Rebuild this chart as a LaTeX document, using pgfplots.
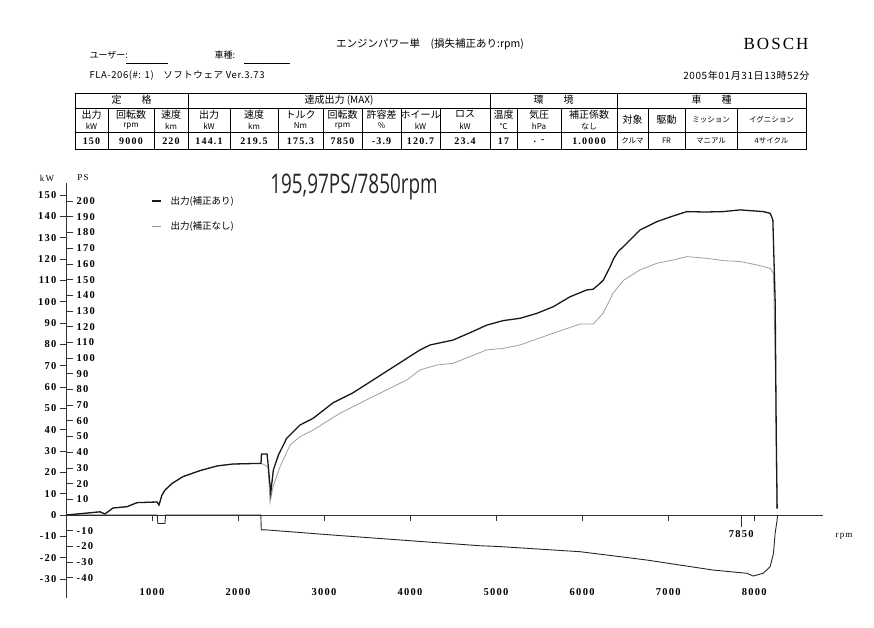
\documentclass[border=0pt]{standalone}
\usepackage{fontspec}
\usepackage{pgfplots}
\pgfplotsset{compat=1.18}
\setmainfont{Liberation Serif}
\newfontfamily\jp{Noto Sans CJK JP}
\newfontfamily\jpls{Noto Sans CJK JP}[LetterSpace=6]
\newfontfamily\num{Liberation Serif}[LetterSpace=12]
\newfontfamily\hand{Open Sans}

\begin{document}
\begin{tikzpicture}
\begin{scope}[x=1pt,y=-1pt]
\path (0,0) rectangle (874,627);
% header
\node[font=\jp\fontsize{10.5}{11}\selectfont] at (430,44) {エンジンパワー単　(損失補正あり:rpm)};
\node[font=\num\fontsize{17}{17}\selectfont] at (776,44) {BOSCH};
\node[font=\jp\fontsize{9}{9}\selectfont, anchor=west] at (86,55) {ユーザー:};
\draw[line width=0.6pt] (126,63) -- (168,63);
\node[font=\jp\fontsize{9}{9}\selectfont, anchor=west] at (211,55) {車種:};
\draw[line width=0.6pt] (244,63) -- (290,63);
\node[font=\jpls\fontsize{9.5}{9}\selectfont, anchor=west] at (86,76) {FLA-206(\#: 1)\quad ソフトウェア Ver.3.73};
\node[font=\jpls\fontsize{10}{10}\selectfont, anchor=east] at (813,76) {2005年01月31日13時52分};
% table
\draw[line width=0.7pt] (75,93) rectangle (806,149);
\draw[line width=0.7pt] (75,108) -- (806,108) (75,132) -- (806,132);
\foreach \x in {188,490,617} \draw[line width=0.7pt] (\x,93) -- (\x,149);
\foreach \x in {108,154,230,278,323,362,401,440,517,561,648,685,737} \draw[line width=0.5pt] (\x,108) -- (\x,149);
\begin{scope}[every node/.style={font=\jp\fontsize{10}{10}\selectfont}]
\node at (131.5,100) {定　　格};
\node at (339,100) {達成出力 (MAX)};
\node at (553.5,100) {環　　境};
\node at (711.5,100) {車　　種};
\foreach \cx/\a/\b in {91.5/出力/kW, 131/回転数/rpm, 171/速度/km, 209/出力/kW, 254/速度/km, 300.5/トルク/Nm, 342.5/回転数/rpm, 381.5/許容差/\%, 420.5/ホイール/kW, 465/ロス/kW, 503.5/温度/℃, 539/気圧/hPa, 589/補正係数/なし}
  {\node at (\cx,114.5) {\a}; \node[font=\jp\fontsize{8}{8}\selectfont] at (\cx,126) {\b};}
\node at (632.5,120) {対象};
\node at (666.5,120) {駆動};
\node[font=\jp\fontsize{7.5}{8}\selectfont] at (711,120) {ミッション};
\node[font=\jp\fontsize{7.5}{8}\selectfont] at (771.5,120) {イグニション};
\foreach \cx/\v in {91.5/150, 131/9000, 171/220, 209/144.1, 254/219.5, 300.5/175.3, 342.5/7850, 381.5/-3.9, 420.5/120.7, 465/23.4, 503.5/17, 539/{. -}, 589/1.0000}
  {\node[font=\num\bfseries\fontsize{10}{10}\selectfont] at (\cx,141) {\v};}
\foreach \cx/\v in {632.5/クルマ, 666.5/FR, 711/マニアル, 771.5/4サイクル}
  {\node[font=\jp\fontsize{7.5}{8}\selectfont] at (\cx,141) {\v};}
\end{scope}
% axis captions and legend
\node[font=\num\fontsize{9}{9}\selectfont] at (47,178) {kW};
\node[font=\num\fontsize{9}{9}\selectfont] at (83,178) {PS};
\node[font=\num\fontsize{9}{9}\selectfont] at (844,536) {rpm};
\draw[line width=1.4pt, black!90] (152,201) -- (161,201);
\node[font=\jp\fontsize{9.5}{9}\selectfont, anchor=west] at (167,201) {出力(補正あり)};
\draw[line width=0.8pt, gray!80] (152,226) -- (161,226);
\node[font=\jp\fontsize{9.5}{9}\selectfont, anchor=west] at (167,226) {出力(補正なし)};
\node[font=\hand\fontsize{27}{27}\selectfont, xscale=0.7, black!85] at (354,187) {195,97PS/7850rpm};
\end{scope}

\begin{axis}[
  at={(66pt,-598pt)}, anchor=south west,
  scale only axis, width=757pt, height=415pt,
  xmin=0, xmax=8800, ymin=-38.9, ymax=155.6,
  axis x line=middle, axis y line=left,
  axis line style={-, line width=0.8pt, black!80},
  xtick={1000,2000,...,8000},
  ytick={-30,-20,...,150},
  xtick align=outside, ytick align=outside,
  major tick length=6pt,
  tick style={line width=0.8pt, black!80},
  hide obscured x ticks=false, hide obscured y ticks=false,
  /pgf/number format/1000 sep={},
  /pgf/number format/assume math mode=true,
  tick label style={font=\num\bfseries\fontsize{10.5}{10}\selectfont},
  xticklabel style={yshift=-64pt},
  extra x ticks={7850},
  extra x tick style={major tick length=12pt, tick label style={yshift=64pt}},
  clip=false,
]
\addplot[gray!75, line width=0.8pt] coordinates {
(0,0)(163,0.6)(395,1.5)(453,0.5)(547,3.3)(709,3.9)(826,5.8)(1058,6.1)(1081,4.7)(1116,9.4)(1151,11.7)(1233,14.8)(1360,18.0)(1558,20.8)(1756,23.0)(1942,23.9)(2150,24.1)(2267,24.2)
(2326,23.2)(2349,22)(2372,5.8)(2407,13.3)(2488,22.6)(2605,32.8)(2721,36.7)(2872,39.8)(3186,47.7)(3570,55.5)(3962,63.3)(4116,68)(4310,70.3)(4500,71.1)(4892,77.4)(5081,78.1)(5279,79.7)(5663,85.2)(5977,89.5)(6128,89.5)(6244,94.5)(6360,104)(6442,108)(6480,110)(6674,114.9)(6869,118)(7023,119.2)(7218,121.1)(7450,120.3)(7643,119.2)(7837,118.8)(8031,117.2)(8186,115.6)(8224,113.3)(8250,60)(8262,3)
};
\addplot[black!90, line width=1.3pt] coordinates {
(0,0)(163,0.6)(395,1.5)(453,0.5)(547,3.3)(709,3.9)(826,5.8)(1058,6.1)(1081,4.7)(1116,9.4)(1151,11.7)(1233,14.8)(1360,18.0)(1558,20.8)(1756,23.0)(1942,23.9)(2150,24.1)(2267,24.2)(2272,28.6)(2337,28.6)(2349,24)(2380,10.3)(2410,21)(2469,28.1)(2566,36)(2721,42.2)(2872,45.3)(3105,52.6)(3337,57.3)(3570,63.3)(3884,71.4)(4116,77.4)(4233,79.7)(4500,82.0)(4700,85.5)(4892,89.0)(5081,91.1)(5279,92.2)(5473,94.5)(5663,97.6)(5860,102.3)(6055,105.5)(6128,105.8)(6209,108.6)(6248,110.2)(6326,116.4)(6364,120)(6419,123.5)(6480,125.8)(6674,133.6)(6869,137.5)(7062,140.2)(7218,142.2)(7430,142.0)(7640,142.2)(7837,143.0)(8105,142.2)(8186,141.4)(8217,138.3)(8244,100)(8256,40)(8267,3)
};
\addplot[black!85, line width=0.9pt] coordinates {
(0,0)(1060,0)(1068,-4)(1150,-4)(1158,0)(2265,0)(2270,-7)(2337,-7)(3105,-9.4)(3884,-11.7)(4256,-12.8)(4814,-14.4)(5047,-14.8)(5977,-17.2)(6752,-21.1)(7523,-25.8)(7915,-27.3)(7988,-28.6)(8105,-27.3)(8186,-24.2)(8224,-18)(8244,-8.4)(8264,-3.1)(8273,0)
};
\end{axis}

\begin{axis}[
  at={(66pt,-598pt)}, anchor=south west,
  scale only axis, width=757pt, height=415pt,
  xmin=0, xmax=8800, ymin=-52.89, ymax=211.56,
  hide x axis, axis y line=left,
  y axis line style={draw=none},
  ytick={-40,-30,-20,-10,10,20,...,200},
  ytick align=inside, major tick length=7pt,
  tick style={line width=0.8pt, black!80},
  /pgf/number format/assume math mode=true,
  tick label style={font=\num\bfseries\fontsize{10.5}{10}\selectfont},
  yticklabel style={anchor=west, xshift=7pt},
]
\end{axis}
\end{tikzpicture}
\end{document}
